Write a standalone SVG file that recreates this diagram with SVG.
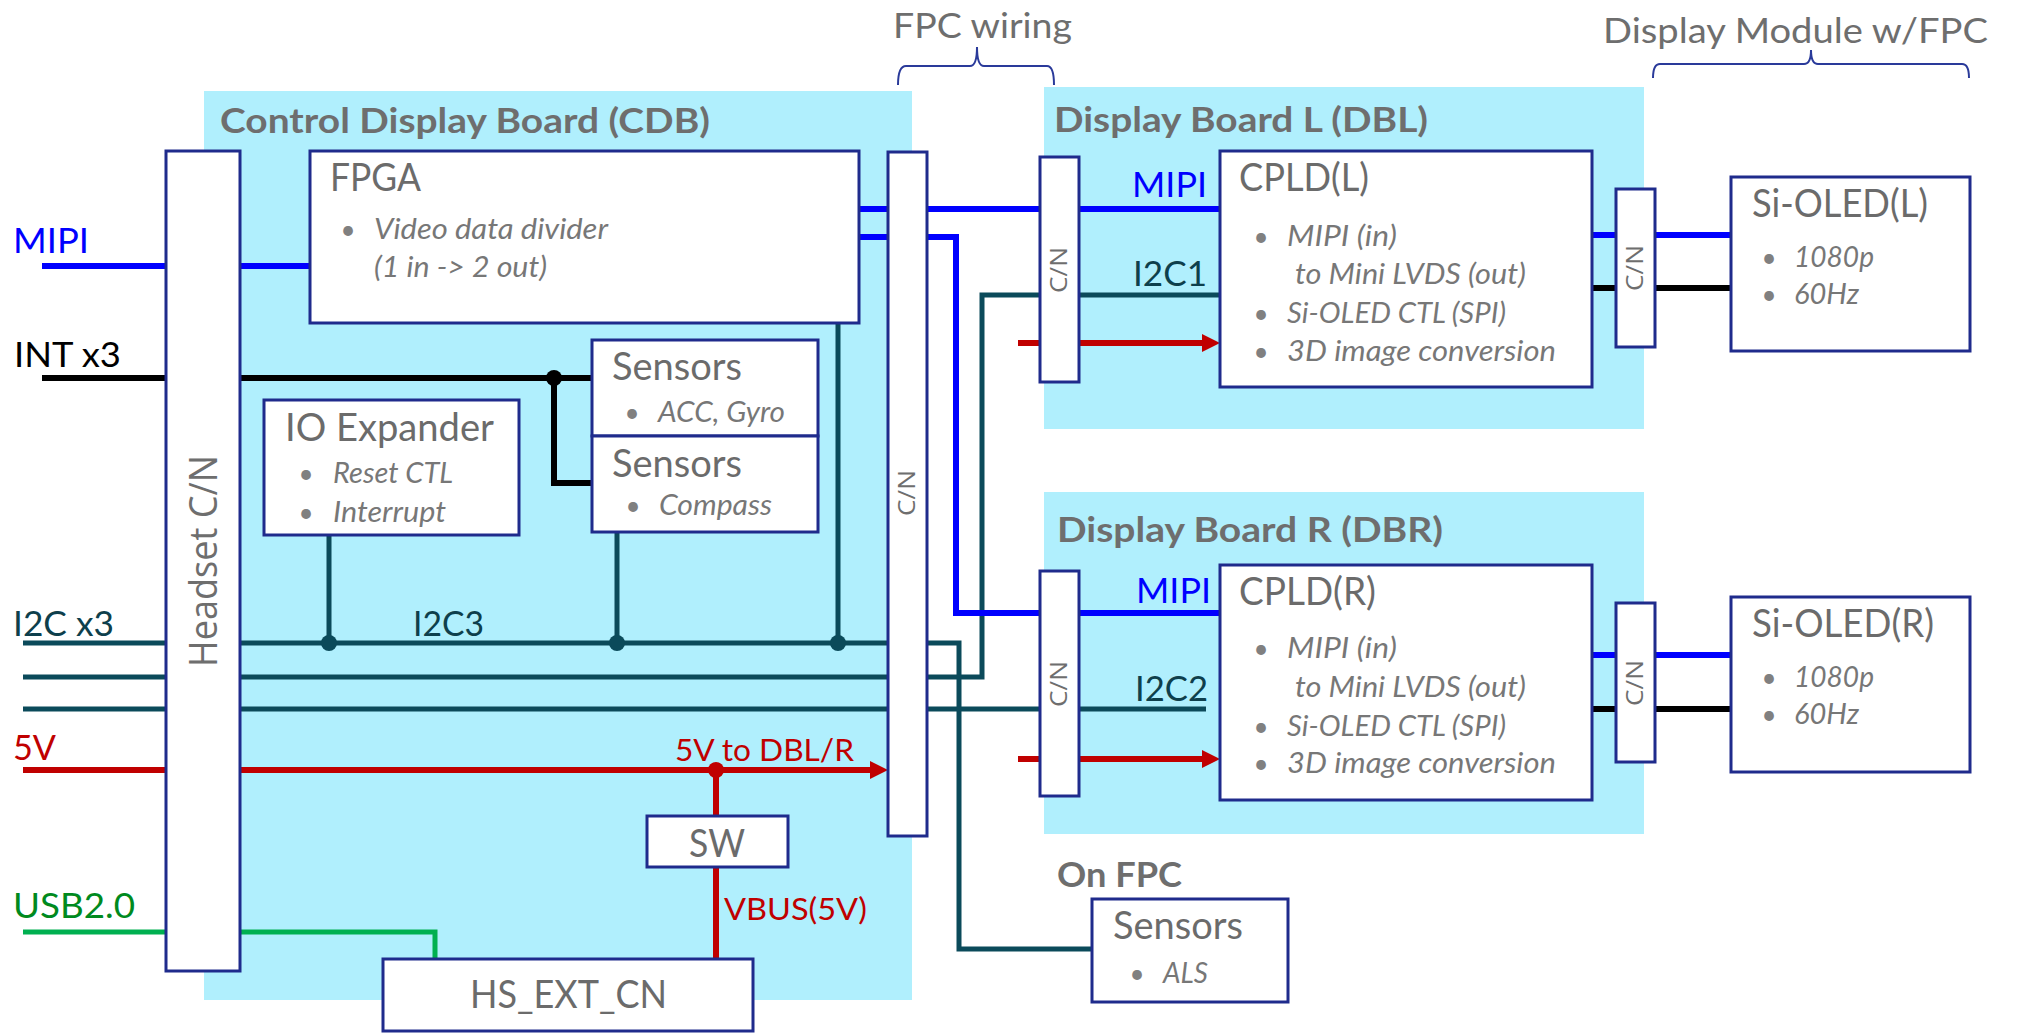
<svg xmlns="http://www.w3.org/2000/svg" width="2019" height="1033" viewBox="0 0 2019 1033">
<defs>
<style>
text{font-family:Lato,"Open Sans","Liberation Sans",sans-serif}
.bg{fill:#b0effd}
.box{fill:#fff;stroke:#1f2b8c;stroke-width:3}
.hdr{font-weight:bold;font-size:35px;fill:#6e6e6e}
.top{font-size:35px;fill:#6e6e6e}
.ttl{font-size:38px;fill:#6b6b6b}
.it{font-style:italic;font-size:28px;fill:#777}
.dot{font-size:26px;fill:#808080;text-anchor:middle}
.cn{font-family:"Open Sans",sans-serif;fill:#6e6e6e;text-anchor:middle}
.sig{font-size:35px}
.w{fill:none}
.mipi{stroke:#0000ff;stroke-width:6}
.int{stroke:#000;stroke-width:6}
.i2c{stroke:#0b4a5a;stroke-width:5}
.pwr{stroke:#c00000;stroke-width:6}
.usb{stroke:#00b050;stroke-width:5}
.brace{fill:none;stroke:#2a3a9a;stroke-width:2}
</style>
<marker id="ar" markerUnits="userSpaceOnUse" markerWidth="20" markerHeight="20" refX="8" refY="9" orient="auto"><path d="M0,0 L18,9 L0,18 z" fill="#c00000"/></marker>
</defs>
<rect width="2019" height="1033" fill="#fff"/>

<!-- boards -->
<g id="board-cdb">
<rect class="bg" x="204" y="91" width="708" height="909"/>
<text class="hdr" x="220" y="133" textLength="490" lengthAdjust="spacingAndGlyphs">Control Display Board (CDB)</text>
</g>
<g id="board-dbl">
<rect class="bg" x="1044" y="87" width="600" height="342"/>
<text class="hdr" x="1054" y="132" textLength="374" lengthAdjust="spacingAndGlyphs">Display Board L (DBL)</text>
</g>
<g id="board-dbr">
<rect class="bg" x="1044" y="492" width="600" height="342"/>
<text class="hdr" x="1057" y="542" textLength="386" lengthAdjust="spacingAndGlyphs">Display Board R (DBR)</text>
</g>

<!-- top annotations -->
<g id="fpc-wiring">
<text class="top" x="893" y="38" textLength="179" lengthAdjust="spacingAndGlyphs">FPC wiring</text>
<path class="brace" d="M898,85 Q898,66 906,66 L970,66 Q977,66 977,47 Q977,66 984,66 L1047,66 Q1054,66 1054,85"/>
</g>
<g id="display-module">
<text class="top" x="1603" y="43" textLength="385" lengthAdjust="spacingAndGlyphs">Display Module w/FPC</text>
<path class="brace" d="M1653,78 Q1653,64 1660,64 L1804,64 Q1811,64 1811,50 Q1811,64 1818,64 L1962,64 Q1969,64 1969,78"/>
</g>

<!-- connectors -->
<g id="connectors">
<path class="w i2c" d="M23,643 H959 V949 H1092"/>
<path class="w i2c" d="M23,677 H982 V295 H1220"/>
<path class="w i2c" d="M23,709 H1206"/>
<path class="w i2c" d="M329,535 V643 M617,532 V643 M838,323 V643"/>
<path class="w mipi" d="M42,266 H310"/>
<path class="w mipi" d="M859,209 H1220"/>
<path class="w mipi" d="M859,237 H956 V613 H1220"/>
<path class="w int" d="M42,378 H592"/>
<path class="w int" d="M554,378 V483 H594"/>
<path class="w pwr" d="M23,770 H878" marker-end="url(#ar)"/>
<path class="w pwr" d="M716,770 V816 M716,867 V959"/>
<path class="w pwr" d="M1018,343 H1210" marker-end="url(#ar)"/>
<path class="w pwr" d="M1018,759 H1210" marker-end="url(#ar)"/>
<path class="w usb" d="M23,932 H435 V959"/>
<path class="w mipi" d="M1592,235 H1731 M1592,655 H1731"/>
<path class="w int" d="M1592,288 H1731 M1592,709 H1731"/>
<circle cx="554" cy="378" r="8" fill="#000"/>
<circle cx="329" cy="643" r="8" fill="#0b4a5a"/>
<circle cx="617" cy="643" r="8" fill="#0b4a5a"/>
<circle cx="838" cy="643" r="8" fill="#0b4a5a"/>
<circle cx="716" cy="770" r="8" fill="#c00000"/>
<text class="sig" x="13" y="253" fill="#0000ff" textLength="76" lengthAdjust="spacingAndGlyphs">MIPI</text>
<text class="sig" x="14" y="367" fill="#000" textLength="107" lengthAdjust="spacingAndGlyphs">INT x3</text>
<text class="sig" x="13" y="636" fill="#0e3f4c" textLength="101" lengthAdjust="spacingAndGlyphs">I2C x3</text>
<text class="sig" x="13" y="760" fill="#c00000" textLength="43" lengthAdjust="spacingAndGlyphs">5V</text>
<text class="sig" x="13" y="918" fill="#008a1e" textLength="122" lengthAdjust="spacingAndGlyphs">USB2.0</text>
<text class="sig" x="413" y="636" fill="#0e3f4c" textLength="71" lengthAdjust="spacingAndGlyphs">I2C3</text>
<text x="675" y="761" font-size="31" fill="#c00000" textLength="179" lengthAdjust="spacingAndGlyphs">5V to DBL/R</text>
<text x="724" y="920" font-size="31" fill="#c00000" textLength="143" lengthAdjust="spacingAndGlyphs">VBUS(5V)</text>
<text class="sig" x="1132" y="197" fill="#0000ff" textLength="75" lengthAdjust="spacingAndGlyphs">MIPI</text>
<text class="sig" x="1133" y="286" fill="#0e3f4c" textLength="74" lengthAdjust="spacingAndGlyphs">I2C1</text>
<text class="sig" x="1136" y="603" fill="#0000ff" textLength="75" lengthAdjust="spacingAndGlyphs">MIPI</text>
<text class="sig" x="1135" y="701" fill="#0e3f4c" textLength="73" lengthAdjust="spacingAndGlyphs">I2C2</text>
</g>

<!-- nodes -->
<g id="headset-cn">
<rect class="box" x="166" y="151" width="74" height="820"/>
<text class="cn" font-size="39" transform="translate(217,561) rotate(-90)" textLength="212" lengthAdjust="spacingAndGlyphs">Headset C/N</text>
</g>
<g id="fpga">
<rect class="box" x="310" y="151" width="549" height="172"/>
<text class="ttl" x="330" y="191" textLength="91" lengthAdjust="spacingAndGlyphs">FPGA</text>
<text class="dot" x="348" y="239">•</text>
<text class="it" x="374" y="239" textLength="234" lengthAdjust="spacingAndGlyphs">Video data divider</text>
<text class="it" x="374" y="277" textLength="173" lengthAdjust="spacingAndGlyphs">(1 in -&gt; 2 out)</text>
</g>
<g id="sensors-acc">
<rect class="box" x="592" y="340" width="226" height="96"/>
<text class="ttl" x="612" y="380" textLength="130" lengthAdjust="spacingAndGlyphs">Sensors</text>
<text class="dot" x="632" y="422">•</text>
<text class="it" x="658" y="422" textLength="127" lengthAdjust="spacingAndGlyphs">ACC, Gyro</text>
</g>
<g id="sensors-compass">
<rect class="box" x="592" y="436" width="226" height="96"/>
<text class="ttl" x="612" y="477" textLength="130" lengthAdjust="spacingAndGlyphs">Sensors</text>
<text class="dot" x="633" y="515">•</text>
<text class="it" x="659" y="515" textLength="113" lengthAdjust="spacingAndGlyphs">Compass</text>
</g>
<g id="io-expander">
<rect class="box" x="264" y="400" width="255" height="135"/>
<text class="ttl" x="285" y="441" textLength="209" lengthAdjust="spacingAndGlyphs">IO Expander</text>
<text class="dot" x="306" y="483">•</text>
<text class="it" x="333" y="483" textLength="120" lengthAdjust="spacingAndGlyphs">Reset CTL</text>
<text class="dot" x="306" y="522">•</text>
<text class="it" x="333" y="522" textLength="113" lengthAdjust="spacingAndGlyphs">Interrupt</text>
</g>
<g id="cn-fpc">
<rect class="box" x="888" y="152" width="39" height="684"/>
<text class="cn" font-size="23" transform="translate(915,493) rotate(-90)" textLength="46" lengthAdjust="spacingAndGlyphs">C/N</text>
</g>
<g id="sw">
<rect class="box" x="647" y="816" width="141" height="51"/>
<text class="ttl" x="717" y="857" text-anchor="middle" textLength="56" lengthAdjust="spacingAndGlyphs">SW</text>
</g>
<g id="hs-ext-cn">
<rect class="box" x="383" y="959" width="370" height="72"/>
<text class="ttl" x="470" y="1008" textLength="197" lengthAdjust="spacingAndGlyphs">HS_EXT_CN</text>
</g>
<g id="cn-dbl">
<rect class="box" x="1040" y="157" width="39" height="225"/>
<text class="cn" font-size="23" transform="translate(1067,270) rotate(-90)" textLength="46" lengthAdjust="spacingAndGlyphs">C/N</text>
</g>
<g id="cpld-l">
<rect class="box" x="1220" y="151" width="372" height="236"/>
<text class="ttl" x="1239" y="191" textLength="130" lengthAdjust="spacingAndGlyphs">CPLD(L)</text>
<text class="dot" x="1261" y="246">•</text>
<text class="it" x="1287" y="246" textLength="110" lengthAdjust="spacingAndGlyphs">MIPI (in)</text>
<text class="it" x="1295" y="284" textLength="231" lengthAdjust="spacingAndGlyphs">to Mini LVDS (out)</text>
<text class="dot" x="1261" y="323">•</text>
<text class="it" x="1287" y="323" textLength="219" lengthAdjust="spacingAndGlyphs">Si-OLED CTL (SPI)</text>
<text class="dot" x="1261" y="361">•</text>
<text class="it" x="1287" y="361" textLength="269" lengthAdjust="spacingAndGlyphs">3D image conversion</text>
</g>
<g id="cn-l-out">
<rect class="box" x="1616" y="189" width="39" height="158"/>
<text class="cn" font-size="23" transform="translate(1643,268) rotate(-90)" textLength="46" lengthAdjust="spacingAndGlyphs">C/N</text>
</g>
<g id="sioled-l">
<rect class="box" x="1731" y="177" width="239" height="174"/>
<text class="ttl" x="1752" y="217" textLength="176" lengthAdjust="spacingAndGlyphs">Si-OLED(L)</text>
<text class="dot" x="1769" y="267">•</text>
<text class="it" x="1794" y="267" textLength="80" lengthAdjust="spacingAndGlyphs">1080p</text>
<text class="dot" x="1769" y="304">•</text>
<text class="it" x="1794" y="304" textLength="65" lengthAdjust="spacingAndGlyphs">60Hz</text>
</g>
<g id="cn-dbr">
<rect class="box" x="1040" y="571" width="39" height="225"/>
<text class="cn" font-size="23" transform="translate(1067,684) rotate(-90)" textLength="46" lengthAdjust="spacingAndGlyphs">C/N</text>
</g>
<g id="cpld-r">
<rect class="box" x="1220" y="565" width="372" height="235"/>
<text class="ttl" x="1239" y="605" textLength="137" lengthAdjust="spacingAndGlyphs">CPLD(R)</text>
<text class="dot" x="1261" y="658">•</text>
<text class="it" x="1287" y="658" textLength="110" lengthAdjust="spacingAndGlyphs">MIPI (in)</text>
<text class="it" x="1295" y="697" textLength="231" lengthAdjust="spacingAndGlyphs">to Mini LVDS (out)</text>
<text class="dot" x="1261" y="736">•</text>
<text class="it" x="1287" y="736" textLength="219" lengthAdjust="spacingAndGlyphs">Si-OLED CTL (SPI)</text>
<text class="dot" x="1261" y="773">•</text>
<text class="it" x="1287" y="773" textLength="269" lengthAdjust="spacingAndGlyphs">3D image conversion</text>
</g>
<g id="cn-r-out">
<rect class="box" x="1616" y="603" width="39" height="159"/>
<text class="cn" font-size="23" transform="translate(1643,683) rotate(-90)" textLength="46" lengthAdjust="spacingAndGlyphs">C/N</text>
</g>
<g id="sioled-r">
<rect class="box" x="1731" y="597" width="239" height="175"/>
<text class="ttl" x="1752" y="637" textLength="182" lengthAdjust="spacingAndGlyphs">Si-OLED(R)</text>
<text class="dot" x="1769" y="687">•</text>
<text class="it" x="1794" y="687" textLength="80" lengthAdjust="spacingAndGlyphs">1080p</text>
<text class="dot" x="1769" y="724">•</text>
<text class="it" x="1794" y="724" textLength="65" lengthAdjust="spacingAndGlyphs">60Hz</text>
</g>
<g id="sensors-als">
<text class="hdr" x="1057" y="887" textLength="125" lengthAdjust="spacingAndGlyphs">On FPC</text>
<rect class="box" x="1092" y="899" width="196" height="103"/>
<text class="ttl" x="1113" y="939" textLength="130" lengthAdjust="spacingAndGlyphs">Sensors</text>
<text class="dot" x="1137" y="983">•</text>
<text class="it" x="1163" y="983" textLength="45" lengthAdjust="spacingAndGlyphs">ALS</text>
</g>
</svg>
